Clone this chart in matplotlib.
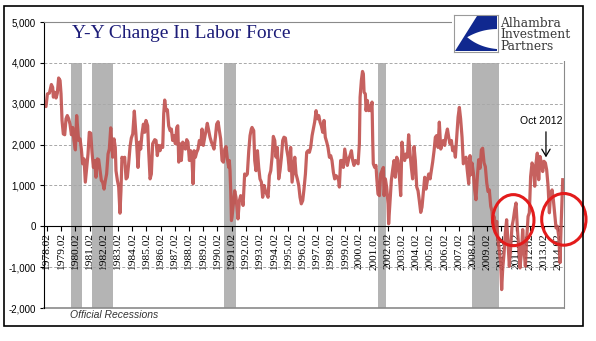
import numpy as np
import matplotlib
matplotlib.use("Agg")
import matplotlib.pyplot as plt
from matplotlib.patches import Rectangle, Ellipse, Polygon

# Y-Y change in civilian labor force (thousands)
# dates are decimal years, values in thousands
dates_7885 = [1977.87, 1978.01, 1978.11, 1978.25, 1978.39, 1978.48, 1978.53, 1978.62, 1978.72, 1978.81,
              1978.90, 1979.00, 1979.07, 1979.14, 1979.23, 1979.33, 1979.42, 1979.51, 1979.61, 1979.70,
              1979.80, 1979.89, 1979.98, 1980.08, 1980.17, 1980.24, 1980.31, 1980.41, 1980.50, 1980.59,
              1980.69, 1980.78, 1980.88, 1980.97, 1981.06, 1981.16, 1981.25, 1981.35, 1981.44, 1981.53,
              1981.63, 1981.72, 1981.82, 1981.91, 1982.00, 1982.10, 1982.19, 1982.28, 1982.38, 1982.47,
              1982.57, 1982.64, 1982.71, 1982.80, 1982.89, 1982.94, 1983.04, 1983.13, 1983.22, 1983.29,
              1983.36, 1983.46, 1983.55, 1983.65, 1983.74, 1983.83, 1983.93, 1984.02, 1984.12, 1984.23,
              1984.33, 1984.40, 1984.49, 1984.59, 1984.68, 1984.77, 1984.87, 1984.96, 1985.05]
vals_7885 = [2950, 2930, 3240, 3260, 3470, 3400, 3160, 3280, 3140, 3260,
             3630, 3570, 3240, 2590, 2260, 2240, 2630, 2710, 2630, 2500,
             2240, 2420, 2100, 1870, 2710, 2420, 2100, 2140, 1890, 1530,
             1650, 1080, 1440, 1770, 2300, 2280, 1810, 1440, 1610, 1200,
             1650, 1630, 1360, 1120, 1080, 910, 1120, 1280, 1770, 1890,
             2410, 2020, 1690, 2140, 1930, 1360, 1120, 960, 320, 870,
             1690, 1610, 1690, 1160, 1200, 1530, 1950, 2160, 2260, 2820,
             2340, 1980, 1440, 2060, 1890, 2260, 2500, 2300, 2590]

dates_8592 = [1985.17, 1985.24, 1985.34, 1985.43, 1985.52, 1985.67, 1985.76, 1985.85, 1985.95, 1986.04,
              1986.14, 1986.23, 1986.30, 1986.37, 1986.46, 1986.56, 1986.65, 1986.75, 1986.84, 1986.93,
              1987.03, 1987.12, 1987.22, 1987.29, 1987.36, 1987.45, 1987.54, 1987.64, 1987.73, 1987.83,
              1987.92, 1988.01, 1988.11, 1988.20, 1988.30, 1988.37, 1988.44, 1988.53, 1988.62, 1988.72,
              1988.81, 1988.91, 1989.00, 1989.09, 1989.19, 1989.28, 1989.37, 1989.47, 1989.56, 1989.66,
              1989.75, 1989.84, 1989.94, 1990.03, 1990.13, 1990.22, 1990.31, 1990.41, 1990.50, 1990.60,
              1990.69, 1990.78, 1990.88, 1990.92, 1990.97, 1991.02, 1991.07, 1991.11, 1991.21, 1991.30,
              1991.39, 1991.46, 1991.53, 1991.63, 1991.72, 1991.82, 1991.89, 1991.96, 1992.00, 1992.10,
              1992.19, 1992.29, 1992.38, 1992.47]
vals_8592 = [2460, 1850, 1160, 1280, 2020, 2120, 2100, 1730, 1980, 1850,
             1980, 1930, 2750, 3090, 2830, 2850, 2460, 2340, 2380, 2100,
             2220, 2020, 2420, 2460, 1570, 2020, 1610, 2060, 1950, 1890,
             2120, 2060, 1610, 1850, 1570, 1040, 1850, 1690, 1810, 1890,
             2100, 2000, 2380, 1980, 2180, 2340, 2520, 2340, 2180, 2060,
             1980, 1890, 2180, 2500, 2560, 2340, 2140, 1610, 1570, 1890,
             1950, 1650, 1440, 1610, 1360, 870, 140, 220, 550, 870,
             710, 470, 180, 630, 750, 670, 510, 1000, 1280, 1240,
             1280, 1850, 2220, 2380]

dates_9200 = [1992.52, 1992.64, 1992.71, 1992.80, 1992.90, 1992.99, 1993.08, 1993.18, 1993.27, 1993.37,
              1993.46, 1993.55, 1993.65, 1993.74, 1993.84, 1993.93, 1994.02, 1994.12, 1994.21, 1994.30,
              1994.40, 1994.49, 1994.59, 1994.68, 1994.77, 1994.87, 1994.96, 1995.06, 1995.15, 1995.24,
              1995.34, 1995.43, 1995.53, 1995.62, 1995.71, 1995.81, 1995.90, 1995.99, 1996.09, 1996.18,
              1996.28, 1996.37, 1996.46, 1996.56, 1996.65, 1996.75, 1996.84, 1996.93, 1997.03, 1997.12,
              1997.22, 1997.31, 1997.40, 1997.50, 1997.59, 1997.68, 1997.78, 1997.87, 1997.97, 1998.06,
              1998.15, 1998.25, 1998.34, 1998.44, 1998.53, 1998.62, 1998.67, 1998.76, 1998.86, 1998.95,
              1999.05, 1999.14, 1999.23, 1999.33, 1999.42, 1999.52, 1999.61, 1999.70, 1999.80, 1999.89,
              1999.99, 2000.08, 2000.13, 2000.22, 2000.30]
vals_9200 = [2420, 2340, 1610, 1360, 1850, 1440, 1160, 1080, 710, 1000,
             870, 790, 710, 1240, 1360, 1690, 2200, 2100, 1690, 1930,
             1160, 1360, 1690, 2100, 2180, 2160, 1890, 1690, 1360, 1930,
             1080, 1360, 1690, 1280, 1160, 1000, 710, 550, 630, 910,
             1280, 1810, 1850, 1810, 1930, 2220, 2380, 2550, 2830, 2630,
             2710, 2550, 2460, 2300, 2590, 2180, 2060, 1930, 1690, 1730,
             1610, 1320, 1160, 1240, 1200, 1120, 960, 1610, 1610, 1440,
             1890, 1690, 1490, 1650, 1730, 1850, 1610, 1490, 1610, 1570,
             1530, 2020, 3160, 3570, 3790]

dates_0007 = [2000.36, 2000.41, 2000.50, 2000.55, 2000.64, 2000.74, 2000.81, 2000.88, 2000.97, 2001.02,
              2001.06, 2001.16, 2001.25, 2001.30, 2001.39, 2001.49, 2001.58, 2001.67, 2001.77, 2001.82,
              2001.91, 2002.00, 2002.10, 2002.14, 2002.24, 2002.33, 2002.43, 2002.52, 2002.61, 2002.71,
              2002.80, 2002.90, 2002.99, 2003.08, 2003.18, 2003.27, 2003.36, 2003.46, 2003.55, 2003.65,
              2003.74, 2003.83, 2003.93, 2004.02, 2004.12, 2004.21, 2004.30, 2004.40, 2004.49, 2004.59,
              2004.68, 2004.77, 2004.87, 2004.96, 2005.06, 2005.15, 2005.24, 2005.34, 2005.43, 2005.52,
              2005.62, 2005.71, 2005.81, 2005.90, 2005.99, 2006.09, 2006.18, 2006.28, 2006.37, 2006.46,
              2006.56, 2006.65, 2006.75, 2006.84, 2006.93, 2007.03, 2007.12, 2007.21, 2007.31, 2007.40,
              2007.50, 2007.59, 2007.68, 2007.78, 2007.87]
vals_0007 = [3730, 3280, 3240, 2830, 3080, 2830, 2950, 2830, 3040, 2100,
             1530, 1440, 1490, 1200, 790, 750, 1280, 1360, 1440, 750,
             1160, 960, 550, 60, 630, 1120, 1400, 1610, 1200, 1690,
             1610, 1200, 750, 2060, 1690, 1610, 1770, 1690, 2240, 1770,
             1440, 1160, 1950, 1610, 960, 870, 630, 340, 470, 870,
             1200, 910, 1120, 1280, 1160, 1360, 1570, 1850, 2180, 2220,
             1930, 2550, 1890, 2020, 2100, 1980, 2220, 2380, 2180, 2020,
             2100, 1850, 1930, 1690, 2140, 2670, 2910, 2630, 2180, 1530,
             1610, 1690, 1360, 1040, 1730]

dates_0714 = [2007.92, 2008.01, 2008.11, 2008.20, 2008.29, 2008.39, 2008.48, 2008.58, 2008.67, 2008.76,
              2008.86, 2008.95, 2009.05, 2009.14, 2009.23, 2009.33, 2009.42, 2009.47, 2009.56, 2009.66,
              2009.75, 2009.84, 2009.94, 2010.03, 2010.10, 2010.17, 2010.27, 2010.36, 2010.45, 2010.55,
              2010.64, 2010.74, 2010.83, 2010.92, 2011.02, 2011.11, 2011.21, 2011.30, 2011.39, 2011.49,
              2011.58, 2011.68, 2011.77, 2011.86, 2011.96, 2012.05, 2012.14, 2012.24, 2012.33, 2012.43,
              2012.52, 2012.61, 2012.71, 2012.80, 2012.90, 2012.99, 2013.08, 2013.18, 2013.27, 2013.37,
              2013.46, 2013.55, 2013.65, 2013.74, 2013.83, 2013.93, 2014.02, 2014.12, 2014.21, 2014.30,
              2014.40]
vals_0714 = [1260, 1550, 1300, 890, 650, 1220, 1630, 1420, 1870, 1910,
             1550, 1460, 1060, 850, 890, 490, 370, 80, 240, -80,
             120, -330, -610, -890, -1550, -1060, -650, -160, 160, -410,
             -980, -490, 0, 160, 410, 570, -80, -490, -1020, -650,
             -80, -610, -980, -330, 240, 330, 1220, 1550, 1460, 980,
             1550, 1790, 1140, 1710, 1550, 1340, 1590, 1550, 1380, 980,
             330, 810, 890, 650, 330, -40, 0, -240, -890, 160,
             1140]

# recession shading (decimal years, as drawn on the chart)
rec_start = [1979.77, 1981.25, 1990.55, 2001.39, 2008.03]
rec_end = [1980.55, 1982.73, 1991.39, 2001.96, 2009.91]
rec_top = 4000

years = list(range(1978, 2015))
xtick_labels = ["%d.02" % y for y in years]
ytick_vals = [-2000, -1000, 0, 1000, 2000, 3000, 4000, 5000]
ytick_labels = ["-2,000", "-1,000", "0", "1,000", "2,000", "3,000", "4,000", "5,000"]

dates = dates_7885 + dates_8592 + dates_9200 + dates_0007 + dates_0714
vals = vals_7885 + vals_8592 + vals_9200 + vals_0007 + vals_0714

W, H = 596, 341
fig = plt.figure(figsize=(W / 100, H / 100), dpi=100)
fig.patch.set_facecolor("white")
ax = fig.add_axes([44 / W, 33 / H, 520 / W, 286 / H])
ax.set_xlim(1977.87, 2014.49)
ax.set_ylim(-2000, 5000)

# recession bars
ax.bar(rec_start, rec_top + 2000, width=np.subtract(rec_end, rec_start), bottom=-2000,
       align="edge", color="#b4b4b4", lw=0, zorder=0.2)

ax.plot(dates, vals, color="#c0504d", lw=2.3, alpha=0.9, solid_joinstyle="round", zorder=2)

ax.set_axisbelow(True)
ax.yaxis.grid(True, ls=(0, (3, 2)), color="#a8a8a8", lw=0.7)

# spines
ax.spines["bottom"].set_position(("data", 0))
ax.spines["bottom"].set_color("black")
ax.spines["bottom"].set_zorder(1.5)
ax.spines["left"].set_color("black")
for s in ["top", "right"]:
    ax.spines[s].set_color("#8a8a8a")
ax.axhline(-2000, color="#8a8a8a", lw=1.2, clip_on=False, zorder=1)

ax.set_xticks([y + 1 / 12 for y in years])
ax.set_xticklabels(xtick_labels, rotation=90, family="Liberation Serif", fontsize=8.2)
ax.set_yticks(ytick_vals)
ax.set_yticklabels(ytick_labels, family="Liberation Sans", fontsize=7)
ax.tick_params(axis="x", direction="out", length=3.5, width=0.8, pad=1.5)
ax.tick_params(axis="y", direction="out", length=3, width=0.8, pad=3)

# circles and note
ax.add_patch(Ellipse((2010.92, 150), 2.91, 1250, fill=False, ec="#e31b1b", lw=2.2,
                     clip_on=False, zorder=4))
ax.add_patch(Ellipse((2014.48, 170), 3.12, 1265, fill=False, ec="#e31b1b", lw=2.2,
                     clip_on=False, zorder=4))
ax.annotate("", xy=(2013.22, 1620), xytext=(2013.22, 2380),
            arrowprops=dict(arrowstyle="->,head_length=0.5,head_width=0.3", color="black", lw=0.9),
            zorder=5)
ax.text(2012.87, 2580, "Oct 2012", ha="center", va="center", fontsize=7.5,
        family="Liberation Sans", zorder=5)

fig.text(181 / W, 1 - 33 / H, "Y-Y Change In Labor Force", ha="center", va="center",
         family="Liberation Serif", fontsize=14, color="#1c1c78")
fig.text(70 / W, 1 - 315 / H, "Official Recessions", ha="left", va="center",
         family="Liberation Sans", style="italic", fontsize=7.5, color="#333333")

# logo
fig.add_artist(Rectangle((452 / W, 1 - 61 / H), 128 / W, 51 / H, fc="white", ec="none",
                         transform=fig.transFigure, zorder=3))
lax = fig.add_axes([454 / W, 1 - 52 / H, 44 / W, 37 / H], zorder=5)
lax.set_xlim(0, 1)
lax.set_ylim(0, 1)
lax.set_xticks([])
lax.set_yticks([])
for s in lax.spines.values():
    s.set_color("#9a9a9a")
    s.set_linewidth(0.8)
lax.add_patch(Polygon([(0.52, 0.97), (0.97, 0.97), (0.97, 0.03), (0.03, 0.03)],
                      closed=True, fc="#10288f", ec="none"))
tt = np.linspace(0, 1, 30)
tip = np.array([0.30, 0.40])
up_c, up_e = np.array([0.62, 0.62]), np.array([0.98, 0.62])
lo_c, lo_e = np.array([0.58, 0.12]), np.array([0.98, 0.08])
upper = [(1 - t) ** 2 * tip + 2 * (1 - t) * t * up_c + t ** 2 * up_e for t in tt]
lower = [(1 - t) ** 2 * tip + 2 * (1 - t) * t * lo_c + t ** 2 * lo_e for t in tt]
lax.add_patch(Polygon(upper + lower[::-1], closed=True, fc="white", ec="none"))
for txt, yy in [("Alhambra", 23.5), ("Investment", 35), ("Partners", 46.5)]:
    fig.text(500 / W, 1 - yy / H, txt, ha="left", va="center", family="DejaVu Serif",
             fontsize=8.8, color="#3a3a3a", zorder=6)

# outer frame
fig.add_artist(Rectangle((4 / W, 15 / H), 579 / W, 320 / H, fill=False, ec="black", lw=1.2,
                         transform=fig.transFigure, zorder=7))

fig.savefig("out.png", dpi=100)
